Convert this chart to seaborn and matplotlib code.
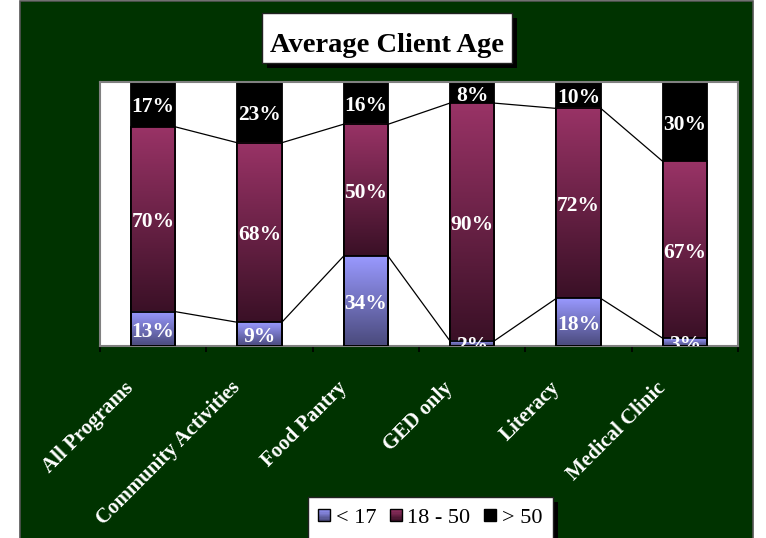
import numpy as np
import pandas as pd
import matplotlib
matplotlib.use("Agg")
import matplotlib.pyplot as plt
import matplotlib.colors as mcolors
import seaborn as sns
from matplotlib.patches import Rectangle
from matplotlib.legend_handler import HandlerBase
from matplotlib.transforms import ScaledTranslation

# ---- data -------------------------------------------------------------
programs = ["All Programs", "Community Activities", "Food Pantry",
            "GED only", "Literacy", "Medical Clinic"]
under_17 = [13, 9, 34, 2, 18, 3]
age_18_50 = [70, 68, 50, 90, 72, 67]
over_50 = [17, 23, 16, 8, 10, 30]
group_labels = ["< 17", "18 - 50", "> 50"]
title = "Average Client Age"

# ---- styling ----------------------------------------------------------
GREEN = "#003300"
U17_TOP, U17_BOT = "#9999ff", "#4a4a7c"
MID_TOP, MID_BOT = "#993366", "#3a1026"

df = pd.DataFrame({"program": programs, "u17": under_17,
                   "mid": age_18_50, "o50": over_50})
df["cum_mid"] = df["u17"] + df["mid"]
df["total"] = df["cum_mid"] + df["o50"]

sns.set_theme(style="white")
plt.rcParams["font.family"] = ["Liberation Serif", "DejaVu Serif"]

W, H = 766, 538
fig = plt.figure(figsize=(W / 100, H / 100), dpi=100)
fig.patch.set_facecolor("white")

def px_rect(x0, y0, x1, y1, **kw):
    """Rectangle in figure pixel coordinates measured from the top-left."""
    return Rectangle((x0 / W, (H - y1) / H), (x1 - x0) / W, (y1 - y0) / H,
                     transform=fig.transFigure, **kw)

# dark green panel behind everything
fig.patches.append(px_rect(20, 1, 753, 545, facecolor=GREEN,
                           edgecolor="#555555", lw=1.2, zorder=-5))

ax = fig.add_axes([100 / W, (H - 346) / H, 638 / W, 264 / H])
ax.set_zorder(1)
ax.set_facecolor("white")

# stacked bars drawn as overlapping cumulative bars
common = dict(data=df, x="program", order=programs, width=0.42,
              edgecolor="black", linewidth=1.3, ax=ax, saturation=1,
              errorbar=None)
sns.barplot(y="total", color="black", **common)
sns.barplot(y="cum_mid", color=MID_TOP, **common)
sns.barplot(y="u17", color=U17_TOP, **common)

n = len(programs)
top_patches = ax.patches[0:n]
mid_patches = ax.patches[n:2 * n]
low_patches = ax.patches[2 * n:3 * n]


def vgrad(top_hex, bot_hex, steps=128):
    top = np.array(mcolors.to_rgb(top_hex))
    bot = np.array(mcolors.to_rgb(bot_hex))
    t = np.linspace(0, 1, steps)[:, None]
    return (bot + (top - bot) * t)[:, None, :]


for p in top_patches:
    p.set_zorder(1)

for mp, lp in zip(mid_patches, low_patches):
    x0, w = mp.get_x(), mp.get_width()
    ax.imshow(vgrad(MID_TOP, MID_BOT),
              extent=(x0, x0 + w, lp.get_height(), mp.get_height()),
              origin="lower", aspect="auto", interpolation="bilinear", zorder=1.5)
    ax.imshow(vgrad(U17_TOP, U17_BOT),
              extent=(x0, x0 + w, 0, lp.get_height()),
              origin="lower", aspect="auto", interpolation="bilinear", zorder=1.6)
    mp.set_facecolor("none"); mp.set_zorder(3)
    lp.set_facecolor("none"); lp.set_zorder(3.5)

# series lines between neighbouring bars
for i in range(n - 1):
    a, b = mid_patches[i], mid_patches[i + 1]
    xa, xb = a.get_x() + a.get_width(), b.get_x()
    for col in ("u17", "cum_mid"):
        ax.plot([xa, xb], [df[col][i], df[col][i + 1]],
                color="black", lw=0.9, zorder=2)

# value labels in the middle of each segment
label_shift = ax.transData + ScaledTranslation(0, -3 / 100, fig.dpi_scale_trans)
for i in range(n):
    xc = mid_patches[i].get_x() + mid_patches[i].get_width() / 2
    segs = [(0, under_17[i]), (df["u17"][i], age_18_50[i]),
            (df["cum_mid"][i], over_50[i])]
    for base, v in segs:
        ax.text(xc, base + v / 2, f"{v}%", ha="center", va="center",
                color="white", fontsize=15.5, fontweight="bold",
                zorder=5, clip_on=True, transform=label_shift)

ax.set_xlim(-0.5, n - 0.5)
ax.set_ylim(0, 100)
ax.set_yticks([])
ax.set_xlabel("")
ax.set_ylabel("")
for s in ax.spines.values():
    s.set_visible(True)
    s.set_color("#808080")
    s.set_linewidth(1.5)

ax.set_xticks(range(n))
ax.set_xticks(np.arange(-0.5, n, 1), minor=True)
ax.tick_params(axis="x", which="major", length=0, pad=32 * 72 / 100, bottom=True)
ax.tick_params(axis="x", which="minor", length=4, width=1.2, color="#000000",
               direction="out", bottom=True)
ax.set_xticklabels(programs, rotation=45, ha="right", fontsize=15,
                   fontweight="bold", color="white")
shift = ScaledTranslation(-15 / 100, 0, fig.dpi_scale_trans)
for lbl in ax.get_xticklabels():
    lbl.set_transform(lbl.get_transform() + shift)

# title box with drop shadow
fig.patches.append(px_rect(267, 18, 517, 68, facecolor="black", lw=0, zorder=1))
fig.patches.append(px_rect(262, 13, 512, 63, facecolor="white",
                           edgecolor="#222222", lw=1, zorder=2))
fig.text(387 / W, (H - 52) / H, title, ha="center", va="baseline",
         fontsize=20.5, fontweight="bold", color="black", zorder=3)

# legend box with drop shadow
fig.patches.append(px_rect(313, 502, 558, 560, facecolor="black", lw=0, zorder=1))
fig.patches.append(px_rect(308, 497, 553, 555, facecolor="white",
                           edgecolor="#222222", lw=1, zorder=2))


class GradientSquare(HandlerBase):
    def __init__(self, top, bot, steps=10):
        super().__init__()
        self.top, self.bot, self.steps = top, bot, steps

    def create_artists(self, legend, orig_handle, xdescent, ydescent,
                       width, height, fontsize, trans):
        side = min(width, height)
        x0, y0 = -xdescent, -ydescent + (height - side) / 2
        cols = vgrad(self.top, self.bot, self.steps)[:, 0, :]
        arts = []
        h = side / self.steps
        for k in range(self.steps):
            arts.append(Rectangle((x0, y0 + k * h), side, h * 1.05,
                                  facecolor=cols[k], lw=0, transform=trans))
        arts.append(Rectangle((x0, y0), side, side, facecolor="none",
                              edgecolor="black", lw=1, transform=trans))
        return arts


handles = [Rectangle((0, 0), 1, 1) for _ in group_labels]
hmap = {handles[0]: GradientSquare(U17_TOP, U17_BOT),
        handles[1]: GradientSquare(MID_TOP, MID_BOT),
        handles[2]: GradientSquare("#000000", "#000000")}
leg = fig.legend(handles, group_labels, handler_map=hmap, ncol=3,
                 loc="center left", bbox_to_anchor=(318 / W, (H - 518) / H),
                 frameon=False, fontsize=16, borderpad=0, borderaxespad=0,
                 handlelength=0.55, handleheight=0.55, handletextpad=0.25,
                 columnspacing=0.6)
leg.set_zorder(4)
for t in leg.get_texts():
    t.set_color("black")

fig.savefig("out.png", dpi=100, facecolor=fig.get_facecolor())
